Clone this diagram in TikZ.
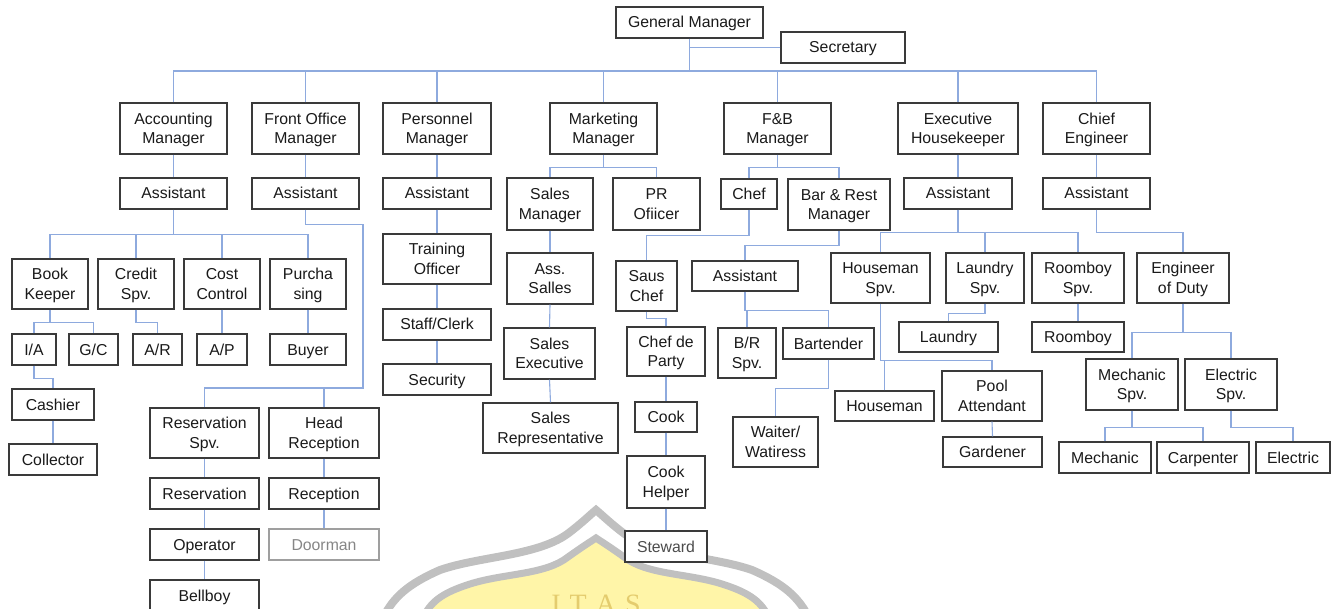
\documentclass[tikz,border=0pt]{standalone}
\usepackage{fontspec}
\setmainfont{Liberation Sans}
\newfontfamily\crestfont{Liberation Serif}
\usetikzlibrary{calc}

\definecolor{linkblue}{RGB}{142,170,222}
\definecolor{boxline}{RGB}{58,58,58}
\definecolor{boxtext}{RGB}{26,26,26}
\definecolor{crestgray}{RGB}{192,192,192}
\definecolor{crestfill}{RGB}{255,245,168}
\definecolor{crestgold}{RGB}{228,204,110}

\tikzset{
  box/.style={draw=boxline, line width=1.3pt, fill=white, text=boxtext,
    inner sep=0pt, align=center, font=\fontsize{15.8}{19.5}\selectfont},
  faded/.style={draw=gray!75, text=gray!95},
  link/.style={draw=linkblue, line width=1.1pt},
}

% #1 extra style, #2 name, #3 x1, #4 y1, #5 x2, #6 y2 (pixel grid, y downwards), #7 text
% the rules give every line block the same ascent/descent, so text sits centred like in a word processor
\newcommand{\orgbox}[7][]{%
  \node[box,minimum width={(#5)-(#3)},minimum height={(#6)-(#4)},#1] (#2)
    at ({((#3)+(#5))/2},{-((#4)+(#6))/2}) {\rule{0pt}{15.5pt}#7\rule[-4.5pt]{0pt}{0pt}};}

\begin{document}
\begin{tikzpicture}[x=1pt,y=1pt]
\useasboundingbox (0,0) rectangle (1340,-609);
\fill[white] (0,0) rectangle (1340,-609);

% faint crest in the background
\begin{scope}
  \clip (0,0) rectangle (1340,-609);
  \fill[crestfill] (424,-616) .. controls (432,-600) and (445,-592) .. (470,-584)
     .. controls (505,-573) and (545,-575) .. (568,-557)
     .. controls (582,-547) and (590,-542) .. (596,-538)
     .. controls (602,-542) and (610,-547) .. (624,-557)
     .. controls (647,-575) and (687,-573) .. (722,-584)
     .. controls (747,-592) and (760,-600) .. (768,-616) -- cycle;
  \draw[crestgray, line width=7pt, line join=miter] (424,-616) .. controls (432,-600) and (445,-592) .. (470,-584)
     .. controls (505,-573) and (545,-575) .. (568,-557)
     .. controls (582,-547) and (590,-542) .. (596,-538)
     .. controls (602,-542) and (610,-547) .. (624,-557)
     .. controls (647,-575) and (687,-573) .. (722,-584)
     .. controls (747,-592) and (760,-600) .. (768,-616);
  \draw[crestgray, line width=8pt, line join=miter] (384,-616) .. controls (394,-597) and (408,-584) .. (440,-570)
     .. controls (480,-556) and (540,-556) .. (570,-532)
     .. controls (583,-522) and (591,-514) .. (596,-510)
     .. controls (601,-514) and (609,-522) .. (622,-532)
     .. controls (652,-556) and (712,-556) .. (752,-570)
     .. controls (784,-584) and (798,-597) .. (808,-616);
  \node[text=crestgold, font=\crestfont\fontsize{28}{28}\selectfont,
        anchor=north] (crestword) at (596,-591) {I\hspace{9pt}T\hspace{9pt}A\hspace{9pt}S};
\end{scope}

% top management
\orgbox{gm}{616}{7}{763}{38}{General Manager}
\orgbox{sec}{781}{32}{905}{63}{Secretary}

% department heads
\orgbox{acct}{120}{103}{227}{154}{Accounting\\Manager}
\orgbox{fom}{252}{103}{359}{154}{Front Office\\Manager}
\orgbox{pers}{383}{103}{491}{154}{Personnel\\Manager}
\orgbox{mkt}{550}{103}{657}{154}{Marketing\\Manager}
\orgbox{fnb}{724}{103}{831}{154}{F\&B\\Manager}
\orgbox{exh}{898}{103}{1018}{154}{Executive\\Housekeeper}
\orgbox{che}{1043}{103}{1150}{154}{Chief\\Engineer}

% second level
\orgbox{acctA}{120}{178}{227}{209}{Assistant}
\orgbox{foA}{252}{178}{359}{209}{Assistant}
\orgbox{persA}{383}{178}{491}{209}{Assistant}
\orgbox{salesM}{507}{178}{593}{230}{Sales\\Manager}
\orgbox{pr}{613}{178}{700}{230}{PR\\Ofiicer}
\orgbox{chef}{721}{179}{777}{209}{Chef}
\orgbox{barM}{788}{179}{890}{230}{Bar \& Rest\\Manager}
\orgbox{exhA}{904}{178}{1012}{209}{Assistant}
\orgbox{cheA}{1043}{178}{1150}{209}{Assistant}

% accounting
\orgbox{book}{12}{259}{88}{309}{Book\\Keeper}
\orgbox{credit}{98}{259}{174}{309}{Credit\\Spv.}
\orgbox{cost}{184}{259}{260}{309}{Cost\\Control}
\orgbox{purch}{270}{259}{346}{309}{Purcha\\sing}
\orgbox{ia}{12}{334}{56}{365}{I/A}
\orgbox{gc}{69}{334}{118}{365}{G/C}
\orgbox{ar}{133}{334}{182}{365}{A/R}
\orgbox{ap}{197}{334}{247}{365}{A/P}
\orgbox{buyer}{270}{334}{346}{365}{Buyer}
\orgbox{cashier}{12}{389}{94}{420}{Cashier}
\orgbox{collector}{9}{444}{97}{475}{Collector}

% front office
\orgbox{resS}{150}{408}{259}{458}{Reservation\\Spv.}
\orgbox{headR}{269}{408}{379}{458}{Head\\Reception}
\orgbox{res}{150}{478}{259}{509}{Reservation}
\orgbox{recep}{269}{478}{379}{509}{Reception}
\orgbox{oper}{150}{529}{259}{560}{Operator}
\orgbox[faded]{door}{269}{529}{379}{560}{Doorman}
\orgbox{bell}{150}{580}{259}{612}{Bellboy}

% personnel
\orgbox{train}{383}{234}{491}{284}{Training\\Officer}
\orgbox{staff}{383}{309}{491}{340}{Staff/Clerk}
\orgbox{secu}{383}{364}{491}{395}{Security}

% marketing
\orgbox{assS}{507}{253}{593}{304}{Ass.\\Salles}
\orgbox{salesE}{504}{328}{595}{379}{Sales\\Executive}
\orgbox{salesR}{483}{403}{618}{453}{Sales\\Representative}

% food & beverage
\orgbox{sausC}{616}{261}{677}{311}{Saus\\Chef}
\orgbox{chefP}{627}{327}{705}{376}{Chef de\\Party}
\orgbox{cook}{635}{402}{697}{432}{Cook}
\orgbox{cookH}{627}{456}{705}{508}{Cook\\Helper}
\orgbox[text=black!70]{stew}{625}{531}{707}{562}{Steward}
\orgbox{barA}{692}{261}{798}{291}{Assistant}
\orgbox{brS}{718}{328}{776}{378}{B/R\\Spv.}
\orgbox{bart}{783}{328}{874}{359}{Bartender}
\orgbox{waiter}{733}{417}{818}{467}{Waiter/\\Watiress}

% housekeeping
\orgbox{hsS}{831}{253}{930}{303}{Houseman\\Spv.}
\orgbox{lnS}{946}{253}{1024}{303}{Laundry\\Spv.}
\orgbox{rbS}{1032}{253}{1124}{303}{Roomboy\\Spv.}
\orgbox{laundry}{899}{322}{998}{352}{Laundry}
\orgbox{roomboy}{1032}{322}{1124}{352}{Roomboy}
\orgbox{houseman}{835}{391}{934}{421}{Houseman}
\orgbox{pool}{942}{371}{1042}{421}{Pool\\Attendant}
\orgbox{gard}{943}{437}{1042}{467}{Gardener}

% engineering
\orgbox{eod}{1137}{253}{1229}{303}{Engineer\\of Duty}
\orgbox{mechS}{1086}{359}{1178}{410}{Mechanic\\Spv.}
\orgbox{elecS}{1185}{359}{1277}{410}{Electric\\Spv.}
\orgbox{mech}{1059}{442}{1151}{473}{Mechanic}
\orgbox{carp}{1157}{442}{1249}{473}{Carpenter}
\orgbox{elec}{1256}{442}{1330}{473}{Electric}

% ---------------- connectors ----------------
\coordinate (topbus) at (689.5,-71);
\coordinate (foR) at (363,-388);

% general manager to departments
\draw[link] (gm.south) -- (gm.south |- topbus);
\draw[link] (sec.west) -- (sec.west -| gm.south);
\draw[link] (acct.north) |- (topbus) -| (che.north);
\foreach \d in {fom,pers,mkt,fnb,exh}
  \draw[link] (\d.north) -- (\d.north |- topbus);

% heads to their assistants
\foreach \a/\b in {acct/acctA, fom/foA, pers/persA, exh/exhA, che/cheA}
  \draw[link] (\a.south) -- (\b.north);

% accounting branch
\draw[link] (acctA.south) -- ++(0,-25) coordinate (accj);
\draw[link] (book.north) |- (accj) -| (purch.north);
\draw[link] (credit.north) -- (credit.north |- accj);
\draw[link] (cost.north) -- (cost.north |- accj);
\draw[link] (book.south) -- ++(0,-13) coordinate (bkj);
\draw[link] (ia.north) |- (bkj) -| (gc.north);
\draw[link] (credit.south) -- ++(0,-13) -| (ar.north);
\draw[link] (cost.south) -- (ap.north);
\draw[link] (purch.south) -- (buyer.north);
\draw[link] (ia.south) -- ++(0,-13) -| (cashier.north);
\draw[link] (cashier.south) -- (collector.north);

% front office branch
\draw[link] (foA.south) -- ++(0,-15) -| (foR) -| (resS.north);
\draw[link] (headR.north) -- (headR.north |- foR);
\draw[link] (resS.south) -- (res.north);
\draw[link] (res.south) -- (oper.north);
\draw[link] (oper.south) -- (bell.north);
\draw[link] (headR.south) -- (recep.north);
\draw[link] (recep.south) -- (door.north);

% personnel branch
\draw[link] (persA.south) -- (train.north);
\draw[link] (train.south) -- (staff.north);
\draw[link] (staff.south) -- (secu.north);

% marketing branch
\draw[link] (mkt.south) -- ++(0,-13) coordinate (mkj);
\draw[link] (salesM.north) |- (mkj) -| (pr.north);
\draw[link] (salesM.south) -- (assS.north);
\draw[link] (assS.south) -- (salesE.north);
\draw[link] (salesE.south) -- (salesR.north);

% food & beverage branch
\draw[link] (fnb.south) -- ++(0,-13) coordinate (fbj);
\draw[link] (chef.north) |- (fbj) -| (barM.north);
\draw[link] (chef.south) -- ++(0,-26) -| (sausC.north);
\draw[link] (sausC.south) -- ++(0,-7) -| (chefP.north);
\draw[link] (chefP.south) -- (cook.north);
\draw[link] (cook.south) -- (cookH.north);
\draw[link] (cookH.south) -- (stew.north);
\draw[link] (barM.south) -- ++(0,-15) -| (barA.north);
\draw[link] (barA.south) -- ++(0,-19) coordinate (baj);
\draw[link] (brS.north) |- (baj) -| (bart.north);
\draw[link] (bart.south) -- ++(0,-29) -| (waiter.north);

% housekeeping branch
\draw[link] (exhA.south) -- ++(0,-23) coordinate (ehj);
\draw[link] (hsS.north) |- (ehj) -| (rbS.north);
\draw[link] (lnS.north) -- (lnS.north |- ehj);
\draw[link] (lnS.south) -- ++(0,-10) -| (laundry.north);
\draw[link] (rbS.south) -- (roomboy.north);
\draw[link] (hsS.south) -- ++(0,-57) coordinate (hsj);
\draw[link] (hsj) -| (pool.north);
\draw[link] (houseman.north) -- (houseman.north |- hsj);
\draw[link] (pool.south) -- (gard.north);

% engineering branch
\draw[link] (cheA.south) -- ++(0,-23) -| (eod.north);
\draw[link] (eod.south) -- ++(0,-29) coordinate (edj);
\draw[link] (mechS.north) |- (edj) -| (elecS.north);
\draw[link] (mechS.south) -- ++(0,-17) coordinate (msj);
\draw[link] (mech.north) |- (msj) -| (carp.north);
\draw[link] (elecS.south) -- ++(0,-17) -| (elec.north);
\end{tikzpicture}
\end{document}
